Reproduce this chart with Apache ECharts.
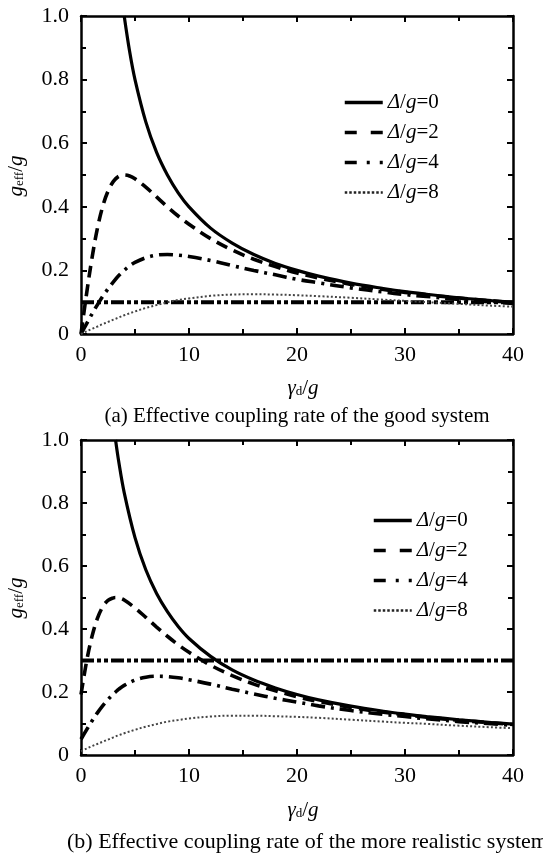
<!DOCTYPE html>
<html>
<head>
<meta charset="utf-8">
<script src="https://cdn.jsdelivr.net/npm/echarts@6/dist/echarts.min.js"></script>
<style>html,body{margin:0;padding:0;background:#fff;}#c{width:543px;height:855px;}</style>
</head>
<body>
<div id="c"></div>
<script>
// ---- data ----
const seriesNames = ['Δ/g=0', 'Δ/g=2', 'Δ/g=4', 'Δ/g=8'];
const xTickLabels = ['0', '10', '20', '30', '40'];
const yTickLabels = ['0', '0.2', '0.4', '0.6', '0.8', '1.0'];
const thresholdLevels = [0.1, 0.3]; // horizontal dash-dot-dot lines (a), (b)

// (a) good system
const gammaTop = [0,0.5,1,1.5,2,2.5,3,3.5,4,4.5,5,6,7,8,9,10,12,14,16,18,20,22,25,28,30,32,35,38,40];
const topD0 = [null,null,null,null,null,null,null,null,1.0,0.889,0.8,0.667,0.571,0.5,0.444,0.4,0.333,0.286,0.25,0.222,0.2,0.182,0.16,0.143,0.133,0.125,0.114,0.105,0.1];
const topD2 = [0,0.123,0.235,0.329,0.4,0.449,0.48,0.496,0.5,0.497,0.488,0.462,0.431,0.4,0.371,0.345,0.3,0.264,0.235,0.212,0.192,0.176,0.156,0.14,0.131,0.123,0.113,0.104,0.099];
const topD4 = [0,0.031,0.062,0.091,0.118,0.142,0.164,0.184,0.2,0.214,0.225,0.24,0.248,0.25,0.248,0.244,0.231,0.215,0.2,0.186,0.172,0.161,0.145,0.132,0.124,0.118,0.109,0.101,0.096];
const topD8 = [0,0.008,0.016,0.023,0.031,0.038,0.045,0.052,0.059,0.065,0.071,0.082,0.091,0.1,0.107,0.112,0.12,0.124,0.125,0.124,0.122,0.119,0.114,0.108,0.104,0.1,0.095,0.089,0.086];

// (b) more realistic system
const gammaBot = [0,0.5,1,1.5,2,2.5,3,3.2,3.5,4,5,6,7,8,9,10,12,14,16,18,20,22,25,28,30,32,35,38,40];
const botD0 = [null,null,null,null,null,null,null,1.0,0.93,0.833,0.69,0.588,0.513,0.455,0.408,0.37,0.313,0.27,0.238,0.213,0.192,0.175,0.155,0.139,0.13,0.122,0.112,0.103,0.098];
const botD2 = [0.192,0.294,0.374,0.432,0.47,0.491,0.499,0.5,0.499,0.492,0.467,0.437,0.406,0.377,0.35,0.326,0.285,0.252,0.225,0.204,0.185,0.17,0.151,0.136,0.128,0.12,0.11,0.102,0.097];
const botD4 = [0.05,0.079,0.107,0.133,0.156,0.176,0.194,0.2,0.209,0.221,0.238,0.247,0.25,0.249,0.245,0.239,0.225,0.209,0.194,0.18,0.168,0.156,0.141,0.129,0.122,0.115,0.106,0.099,0.094];
const botD8 = [0.012,0.02,0.028,0.035,0.042,0.049,0.056,0.059,0.063,0.069,0.08,0.09,0.098,0.106,0.111,0.116,0.122,0.125,0.125,0.123,0.121,0.118,0.112,0.106,0.102,0.099,0.093,0.088,0.085];

// ---- styling ----
const FF = 'Liberation Serif, Times New Roman, serif';
const styles = [
  {type: 'solid', width: 3.2, color: '#000'},
  {type: [12, 7], width: 3.6, color: '#000'},
  {type: [14, 6, 3, 6], width: 3.6, color: '#000'},
  {type: [2, 2.2], width: 2, color: '#444'}
];
const legendStyles = [
  {type: 'solid', width: 3.5, color: '#000'},
  {type: [12, 14], width: 3.5, color: '#000'},
  {type: [12, 10, 3, 10], width: 3.5, color: '#000'},
  {type: [2.5, 2], width: 2.5, color: '#222'}
];
const hStyle = {type: [13, 3, 4, 3, 4, 3], width: 4, color: '#000'};

function pairs(xs, ys) {
  const out = [];
  xs.forEach((x, i) => { if (ys[i] !== null) out.push([x, ys[i]]); });
  return out;
}

const grids = [
  {left: 81, top: 16, width: 432, height: 318},
  {left: 81, top: 440, width: 432, height: 315}
];

function xAx(gi, pos, labels) {
  return {
    type: 'value', gridIndex: gi, position: pos, min: 0, max: 40, interval: 10,
    axisLine: {show: true, onZero: false, lineStyle: {color: '#000', width: 2.5}},
    axisTick: {show: true, inside: true, length: 6, lineStyle: {color: '#000', width: 2}},
    minorTick: {show: true, splitNumber: 2, length: 5, lineStyle: {color: '#000', width: 2}},
    splitLine: {show: false},
    axisLabel: {show: labels, margin: 10, color: '#000', fontFamily: FF, fontSize: 22,
      formatter: v => xTickLabels[Math.round(v / 10)]}
  };
}
function yAx(gi, pos, labels) {
  return {
    type: 'value', gridIndex: gi, position: pos, min: 0, max: 1, interval: 0.2,
    axisLine: {show: true, onZero: false, lineStyle: {color: '#000', width: 2.5}},
    axisTick: {show: true, inside: true, length: 6, lineStyle: {color: '#000', width: 2}},
    minorTick: {show: true, splitNumber: 2, length: 5, lineStyle: {color: '#000', width: 2}},
    splitLine: {show: false},
    axisLabel: {show: labels, margin: 12, color: '#000', fontFamily: FF, fontSize: 22,
      formatter: v => yTickLabels[Math.round(v / 0.2)]}
  };
}

const series = [];
const topSets = [topD0, topD2, topD4, topD8];
const botSets = [botD0, botD2, botD4, botD8];
topSets.forEach((d, k) => series.push({
  name: seriesNames[k], type: 'line', xAxisIndex: 0, yAxisIndex: 0,
  data: pairs(gammaTop, d), showSymbol: false, symbol: 'none', smooth: 0.35,
  lineStyle: styles[k], itemStyle: {color: styles[k].color}, clip: true, z: 3
}));
series.push({type: 'line', xAxisIndex: 0, yAxisIndex: 0, symbol: 'none', silent: true,
  data: [[0, thresholdLevels[0]], [40, thresholdLevels[0]]], lineStyle: hStyle, z: 2});
botSets.forEach((d, k) => series.push({
  name: seriesNames[k], type: 'line', xAxisIndex: 2, yAxisIndex: 2,
  data: pairs(gammaBot, d), showSymbol: false, symbol: 'none', smooth: 0.35,
  lineStyle: styles[k], itemStyle: {color: styles[k].color}, clip: true, z: 3
}));
series.push({type: 'line', xAxisIndex: 2, yAxisIndex: 2, symbol: 'none', silent: true,
  data: [[0, thresholdLevels[1]], [40, thresholdLevels[1]]], lineStyle: hStyle, z: 2});

const legRich = {
  i: {fontFamily: FF, fontSize: 21, fontStyle: 'italic', lineHeight: 20, color: '#000'},
  r: {fontFamily: FF, fontSize: 21, lineHeight: 20, color: '#000'}
};
function legend(left, top) {
  return {
    data: seriesNames.map((n, k) => ({name: n, lineStyle: legendStyles[k]})),
    left: left, top: top, orient: 'vertical', selectedMode: false,
    padding: 0, itemWidth: 38, itemHeight: 14, itemGap: 9,
    itemStyle: {color: 'rgba(0,0,0,0)', borderColor: 'rgba(0,0,0,0)', borderWidth: 0, opacity: 0},
    textStyle: {fontFamily: FF, fontSize: 21, lineHeight: 20, color: '#000', rich: legRich},
    formatter: n => '{i|Δ}{r|/}{i|g}{r|=' + n.split('=')[1] + '}'
  };
}

const nameRich = {
  i: {fontFamily: FF, fontSize: 21, fontStyle: 'italic', lineHeight: 21, padding: [0, 0, 5, 0], verticalAlign: 'top', fill: '#000'},
  r: {fontFamily: FF, fontSize: 21, lineHeight: 21, padding: [0, 0, 5, 0], verticalAlign: 'top', fill: '#000'},
  s: {fontFamily: FF, fontSize: 13, lineHeight: 13, verticalAlign: 'bottom', fill: '#000'}
};
function label(x, y, text, rot) {
  return {type: 'text', x: x, y: y, rotation: rot || 0, z: 10,
    style: {text: text, rich: nameRich, align: 'center', verticalAlign: 'middle', fill: '#000'}};
}
function caption(x, y, text, align, size) {
  return {type: 'text', x: x, y: y, z: 10,
    style: {text: text, fontFamily: FF, fontSize: size, fill: '#000', align: align, verticalAlign: 'middle'}};
}

const chart = echarts.init(document.getElementById('c'), null, {renderer: 'canvas'});
chart.setOption({
  animation: false,
  backgroundColor: '#fff',
  grid: grids.map(g => Object.assign({containLabel: false, outerBoundsMode: 'none'}, g)),
  xAxis: [xAx(0, 'bottom', true), xAx(0, 'top', false), xAx(1, 'bottom', true), xAx(1, 'top', false)],
  yAxis: [yAx(0, 'left', true), yAx(0, 'right', false), yAx(1, 'left', true), yAx(1, 'right', false)],
  legend: [legend(343, 92), legend(372, 510)],
  series: series,
  graphic: [
    label(303, 388, '{i|γ}{s|d}{r|/}{i|g}'),
    label(303, 810, '{i|γ}{s|d}{r|/}{i|g}'),
    label(16, 176, '{i|g}{s|eff}{r|/}{i|g}', Math.PI / 2),
    label(16, 598, '{i|g}{s|eff}{r|/}{i|g}', Math.PI / 2),
    caption(297, 416, '(a) Effective coupling rate of the good system', 'center', 21),
    caption(67, 842, '(b) Effective coupling rate of the more realistic system', 'left', 22)
  ]
});
</script>
</body>
</html>
